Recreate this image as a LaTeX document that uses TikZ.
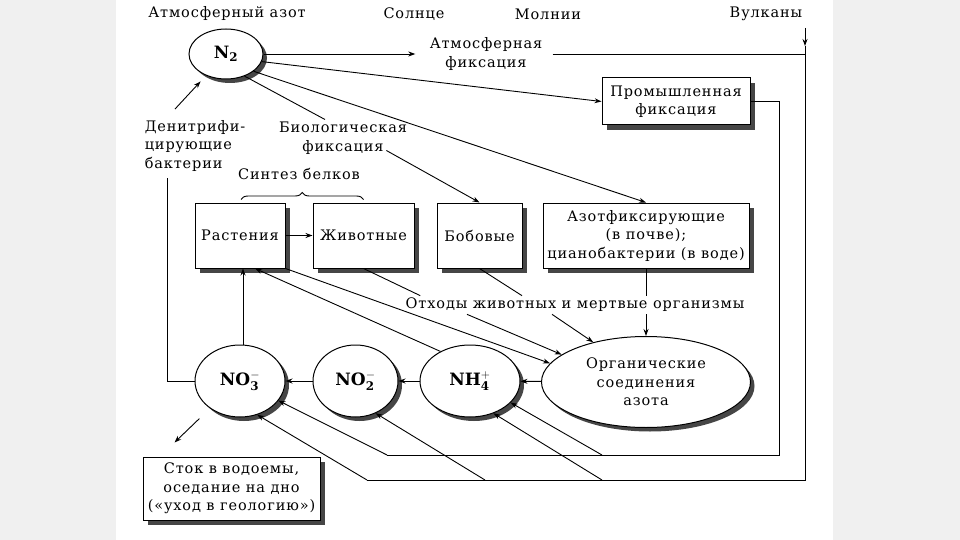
\documentclass[tikz,border=0pt]{standalone}
\usepackage{fontspec}
\setmainfont{DejaVu Serif}[LetterSpace=6]
\usetikzlibrary{shapes.geometric,arrows.meta,shadows,decorations.pathreplacing}
\definecolor{bggray}{RGB}{240,240,240}
\definecolor{shade}{RGB}{70,70,70}

\begin{document}
\begin{tikzpicture}[x=1pt,y=-1pt,line width=.9pt,
    txt/.style={font=\fontsize{14.5}{18.5}\selectfont,align=center,inner sep=2pt},
    blk/.style={txt,draw,fill=white,line width=1pt,minimum height=65pt,
      drop shadow={shadow xshift=5pt,shadow yshift=-5pt,fill=shade,opacity=1}},
    oval/.style={txt,ellipse,draw,fill=white,line width=1pt,inner sep=0pt,
      drop shadow={shadow xshift=4pt,shadow yshift=-4pt,fill=shade,opacity=1}},
    ion/.style={oval,font=\fontsize{17}{19}\selectfont},
    arr/.style={-{Stealth[length=7pt,width=5pt]}}]
  \fill[bggray] (0,0) rectangle (960,540);
  \fill[white] (116,0) rectangle (833,540);
  \useasboundingbox (0,0) rectangle (960,540);
  % sources
  \node[txt] (atm) at (227,14) {Атмосферный азот};
  \node[txt] (sun) at (414,14) {Солнце};
  \node[txt] (light) at (548,14) {Молнии};
  \node[txt] (volc) at (766,14) {Вулканы};
  \node[ion,minimum width=74pt,minimum height=50pt] (n2) at (226,54) {$\mathbf{N_2}$};
  \node[txt] (atmfix) at (486,54) {Атмосферная\\фиксация};
  \node[blk,minimum width=148pt,minimum height=47pt] (indfix) at (676,101.5) {Промышленная\\фиксация};
  \node[txt,align=left] (denit) at (195,146) {Денитрифи-\\цирующие\\бактерии};
  \node[txt] (biofix) at (343,138) {Биологическая\\фиксация};
  \node[txt] (synth) at (299,174) {Синтез белков};
  % organisms
  \node[blk,minimum width=90pt] (plants) at (240,235.5) {Растения};
  \node[blk,minimum width=101pt] (animals) at (363.5,235.5) {Животные};
  \node[blk,minimum width=85pt] (legumes) at (479.5,235.5) {Бобовые};
  \node[blk,minimum width=206pt] (azfix) at (646,235.5) {Азотфиксирующие\\(в почве);\\цианобактерии (в воде)};
  \node[txt] (waste) at (575,305) {Отходы животных и мертвые организмы};
  % compounds
  \node[ion,minimum width=90pt,minimum height=72pt] (no3) at (240,381) {$\mathbf{NO_3^-}$};
  \node[ion,minimum width=85pt,minimum height=72pt] (no2) at (355.5,381) {$\mathbf{NO_2^-}$};
  \node[ion,minimum width=100pt,minimum height=72pt] (nh4) at (470,381) {$\mathbf{NH_4^+}$};
  \node[oval,minimum width=209pt,minimum height=91pt] (org) at (646,382) {Органические\\соединения\\азота};
  \node[blk,minimum width=177pt,minimum height=63pt] (runoff) at (231.5,488.5) {Сток в водоемы,\\оседание на дно\\(«уход в геологию»)};
  \coordinate (vtop) at (805,28);
  \coordinate (vtip) at (805,46);
  \coordinate (vbot) at (805,480);
  \coordinate (outl) at (367,480);
  \coordinate (outa) at (485,480);
  \coordinate (outb) at (602,480);
  \coordinate (indr) at (779,101.5);
  \coordinate (inbot) at (779,455);
  \coordinate (inl) at (387,455);
  \coordinate (inb) at (602,455);
  \coordinate (dtop) at (167,178);
  % fixation
  \draw[arr] (n2.east) -- ([xshift=-12pt]atmfix.west);
  \draw ([xshift=8pt]atmfix.east) -- (atmfix.east -| vtop);
  \draw[arr] (vtop) -- (vtip);
  \draw (vtip) -- (vbot) -- (outl);
  \draw[arr] (outl) -- (no3.-63);
  \draw[arr] (outa) -- (no2.-58);
  \draw[arr] (outb) -- (nh4.-54);
  \draw (indfix.east) -- (indr) -- (inbot) -- (inl);
  \draw[arr] (inl) -- (no3.-27);
  \draw[arr] (inb) -- (nh4.-28);
  \draw[arr] (n2.-12) -- (indfix.west);
  \draw[arr] (n2.-32) -- (azfix.north);
  \draw (n2.-50) -- ([xshift=-18pt]biofix.north);
  \draw[arr] ([xshift=-23pt,yshift=6pt]biofix.south east) -- (legumes.north);
  % food chain and decay
  \draw[decorate,decoration={brace,amplitude=7pt}] ([xshift=1pt,yshift=3pt]plants.north) -- ([yshift=3pt]animals.north);
  \draw[arr] (plants) -- (animals);
  \draw (animals.south) -- ([xshift=17pt]waste.north west);
  \draw (legumes.south) -- ([xshift=-53pt]waste.north);
  \draw[arr] ([xshift=-108pt]waste.south) -- (org.162);
  \draw[arr] ([xshift=-23pt]waste.south) -- (org.143);
  \draw (azfix.south) -- (azfix.south |- waste.north);
  \draw[arr] (org.north |- waste.south) -- (org.north);
  \draw[arr] (plants.south east) -- (org.169);
  \draw[arr] (nh4.135) -- ([xshift=15pt]plants.south);
  \draw[arr] ([xshift=3pt]no3.north) -- ([xshift=3pt]plants.south);
  \draw[arr] (org) -- (nh4);
  \draw[arr] (nh4) -- (no2);
  \draw[arr] (no2) -- (no3);
  % denitrification and runoff
  \draw (no3.west) -| (dtop);
  \draw[arr,shorten >=8pt] ([xshift=-20pt,yshift=9pt]denit.north) -- (n2);
  \draw[arr] ([xshift=-14pt,yshift=-8pt]no3.-132) -- ([xshift=32pt,yshift=14pt]runoff.north west);
\end{tikzpicture}
\end{document}
